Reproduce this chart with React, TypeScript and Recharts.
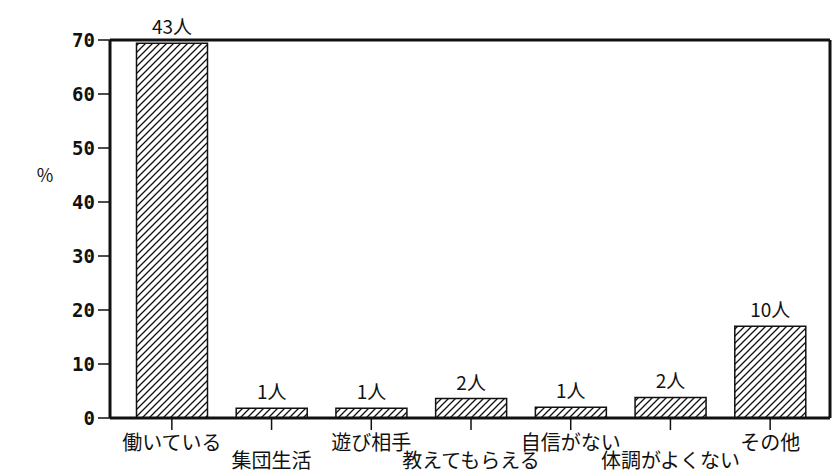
import React from "react";
import {
  BarChart,
  Bar,
  XAxis,
  YAxis,
  LabelList,
  ReferenceLine,
} from "recharts";

// 理由の項目
const categories = [
  "働いている",
  "集団生活",
  "遊び相手",
  "教えてもらえる",
  "自信がない",
  "体調がよくない",
  "その他",
];
// 割合(%)
const percents = [69.4, 1.8, 1.8, 3.6, 2.0, 3.8, 17.0];
// 人数
const counts = [43, 1, 1, 2, 1, 2, 10];
const yTicks = [0, 10, 20, 30, 40, 50, 60, 70];

const data = categories.map((name, i) => ({
  name,
  percent: percents[i],
  count: counts[i],
}));

const FONT = '"Noto Sans CJK JP", "Noto Sans", sans-serif';
const MONO = '"DejaVu Sans Mono", monospace';

// 奇数番目のラベルは一段下げる
function StaggerTick(props: any) {
  const { x, y, payload, index } = props;
  const dy = index % 2 === 1 ? 36 : 18;
  return (
    <text
      x={x}
      y={y + dy}
      textAnchor="middle"
      fontFamily={FONT}
      fontSize={20}
      fill="#111"
    >
      {payload.value}
    </text>
  );
}

export default function App() {
  return (
    <div style={{ position: "absolute", left: 0, top: 0, background: "#fff" }}>
      <BarChart
        width={834}
        height={475}
        data={data}
        margin={{ top: 40, right: 2, bottom: 0, left: 0 }}
        barCategoryGap={14.5}
      >
        <defs>
          <pattern id="hatch" width="7" height="7" patternUnits="userSpaceOnUse">
            <path
              d="M-1,1 l2,-2 M0,7 l7,-7 M6,8 l2,-2"
              stroke="#111"
              strokeWidth={1.3}
            />
          </pattern>
        </defs>
        <XAxis
          dataKey="name"
          padding={{ left: 12, right: 10 }}
          axisLine={{ stroke: "#111", strokeWidth: 3 }}
          tickLine={{ stroke: "#111", strokeWidth: 1.5 }}
          tickSize={12}
          tick={<StaggerTick />}
          interval={0}
          height={57}
        />
        <YAxis
          domain={[0, 70]}
          ticks={yTicks}
          width={110}
          axisLine={{ stroke: "#111", strokeWidth: 3 }}
          tickLine={{ stroke: "#111", strokeWidth: 1.5 }}
          tickSize={12}
          tickMargin={3}
          tick={{ fontFamily: MONO, fontSize: 19, fontWeight: "bold", fill: "#111" }}
          label={({ viewBox }: any) => (
            <text
              x={viewBox.x + 45}
              y={viewBox.y + 142}
              textAnchor="middle"
              fontFamily={FONT}
              fontSize={18}
              fill="#111"
            >
              %
            </text>
          )}
        />
        <YAxis
          yAxisId="right"
          orientation="right"
          domain={[0, 70]}
          width={2}
          axisLine={{ stroke: "#111", strokeWidth: 3 }}
          tick={false}
          tickLine={false}
        />
        <ReferenceLine y={70} stroke="#111" strokeWidth={3} />
        <Bar
          dataKey="percent"
          fill="url(#hatch)"
          stroke="#111"
          strokeWidth={1.5}
          isAnimationActive={false}
        >
          <LabelList
            dataKey="count"
            position="top"
            offset={9}
            formatter={(v: any) => `${v}人`}
            style={{ fontFamily: FONT, fontSize: 19, fill: "#111" }}
          />
        </Bar>
      </BarChart>
    </div>
  );
}
